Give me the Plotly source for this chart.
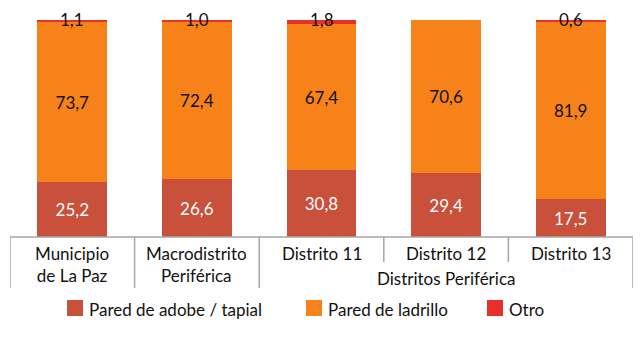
import plotly.graph_objects as go

# Housing wall material by area (percent)
categories = ["Municipio<br>de La Paz", "Macrodistrito<br>Periférica", "Distrito 11", "Distrito 12", "Distrito 13"]
group_label = "Distritos Periférica"
adobe = [25.2, 26.6, 30.8, 29.4, 17.5]
ladrillo = [73.7, 72.4, 67.4, 70.6, 81.9]
otro = [1.1, 1.0, 1.8, 0.0, 0.6]

series_names = ["Pared de adobe / tapial", "Pared de ladrillo", "Otro"]
colors = ["#C9503A", "#F7821A", "#E8302A"]

W, H = 640, 340
FONT = "Lato"
x_left, x_right = 10, 633      # plot area horizontal extent (px)
y_base, y_top = 237, 20        # baseline and 100% line (px)

def py(px):
    return 1 - px / H

def fmt(v):
    return f"{v:.1f}".replace(".", ",")

xs = list(range(len(categories)))
fig = go.Figure()

no_line = dict(width=0)
fig.add_trace(go.Bar(x=xs, y=adobe, marker=dict(color=colors[0], line=no_line), name=series_names[0],
                     text=[fmt(v) for v in adobe],
                     textposition="inside", insidetextanchor="middle",
                     textfont=dict(color="white", size=17, family=FONT)))
fig.add_trace(go.Bar(x=xs, y=ladrillo, marker=dict(color=colors[1], line=no_line), name=series_names[1],
                     text=[fmt(v) for v in ladrillo],
                     textposition="inside", insidetextanchor="middle",
                     textfont=dict(color="#111111", size=17, family=FONT)))
fig.add_trace(go.Bar(x=xs, y=otro, marker=dict(color=colors[2], line=no_line), name=series_names[2],
                     textposition="none"))

annotations = []
# Labels for the thin "Otro" segments, centred on the top of each stack
for i, v in enumerate(otro):
    if v > 0:
        annotations.append(dict(x=i, y=adobe[i] + ladrillo[i] + v, xref="x", yref="y",
                                text=fmt(v), showarrow=False,
                                yshift=1, font=dict(size=17, color="#111111", family=FONT)))

# Category labels
for i, c in enumerate(categories):
    annotations.append(dict(x=i, y=py(y_base + 4), xref="x", yref="paper", yanchor="top",
                            text=c, showarrow=False, align="center",
                            font=dict(size=17, color="#111111", family=FONT)))
annotations.append(dict(x=3, y=py(266), xref="x", yref="paper", yanchor="top",
                        text=group_label, showarrow=False,
                        font=dict(size=17, color="#111111", family=FONT)))

line_col = "#A6A6A6"
shapes = [dict(type="line", xref="x", yref="paper", x0=-0.5, x1=4.5,
               y0=py(y_base), y1=py(y_base), line=dict(color=line_col, width=1.5))]
for xv, bottom in [(-0.5, 288), (0.5, 288), (1.5, 288), (2.5, 262), (3.5, 262), (4.5, 288)]:
    shapes.append(dict(type="line", xref="x", yref="paper", x0=xv, x1=xv,
                       y0=py(y_base), y1=py(bottom), line=dict(color=line_col, width=1.5)))

# Legend
legend_items = [(67, series_names[0], colors[0]), (306, series_names[1], colors[1]),
                (487, series_names[2], colors[2])]
for x0, name, col in legend_items:
    shapes.append(dict(type="rect", xref="paper", yref="paper",
                       x0=x0 / W, x1=(x0 + 16) / W, y0=py(316), y1=py(300),
                       fillcolor=col, line=dict(width=0)))
    annotations.append(dict(x=(x0 + 20) / W, y=py(309), xref="paper", yref="paper",
                            xanchor="left", yanchor="middle", text=name, showarrow=False,
                            font=dict(size=17, color="#111111", family=FONT)))

fig.update_layout(
    width=W, height=H, margin=dict(l=0, r=0, t=0, b=0),
    barmode="stack", bargap=0.44, showlegend=False,
    plot_bgcolor="white", paper_bgcolor="white",
    xaxis=dict(domain=[x_left / W, x_right / W], range=[-0.5, 4.5],
               showticklabels=False, showgrid=False, zeroline=False, showline=False),
    yaxis=dict(domain=[py(y_base), py(y_top)], range=[0, 100],
               visible=False, showgrid=False, zeroline=False),
    uniformtext=dict(minsize=8, mode="show"),
    shapes=shapes, annotations=annotations,
    font=dict(family=FONT),
)

fig.write_html("out.html")
